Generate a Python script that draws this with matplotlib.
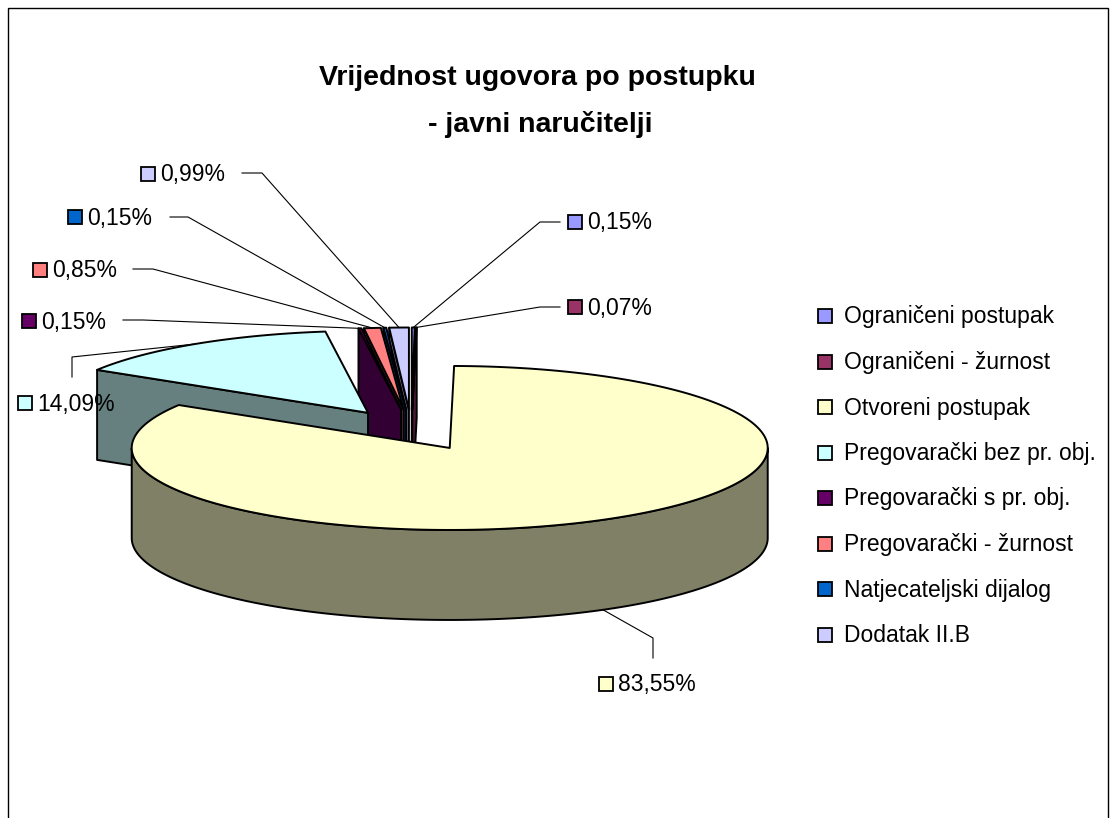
import numpy as np
import matplotlib
matplotlib.use("Agg")
import matplotlib.pyplot as plt
from matplotlib.patches import Polygon, Rectangle

# ---------------- data ----------------
categories = ["Ograničeni postupak", "Ograničeni - žurnost", "Otvoreni postupak",
              "Pregovarački bez pr. obj.", "Pregovarački s pr. obj.",
              "Pregovarački - žurnost", "Natjecateljski dijalog", "Dodatak II.B"]
shares = [0.15, 0.07, 83.55, 14.09, 0.15, 0.85, 0.15, 0.99]
colors = ["#9999FF", "#993366", "#FFFFCC", "#CCFFFF", "#660066",
          "#FF8080", "#0066CC", "#CCCCFF"]
title_lines = ["Vrijednost ugovora po postupku", "- javni naručitelji"]

# ---------------- layout ----------------
CX, CY = 411.4, 430.0      # screen position of pie centre (top plane)
A, B, H = 318.0, 82.0, 90.0  # ellipse semi-axes and wall height (px)
EXPLODE = 0.25
FONT = "Liberation Sans"
FS = 16.5

label_pos = [(575, 222), (575, 307), (606, 684), (25, 403),
             (29, 321), (40, 270), (75, 217), (148, 174)]
leader_pts = [[(560, 222), (540, 222)], [(560, 307), (540, 307)],
              [(653, 658), (653, 638)], [(72, 377), (72, 357)],
              [(123, 320), (143, 320)], [(133, 269), (153, 269)],
              [(170, 217), (188, 217)], [(242, 173), (262, 173)]]
legend_x, legend_y0, legend_dy = 825, 316, 45.5


def shade(c, f=0.5):
    rgb = np.array(matplotlib.colors.to_rgb(c))
    return tuple(rgb * f)


def proj(x, y, z):
    return CX + A * np.asarray(x), CY - B * np.asarray(y) - H * np.asarray(z)


fig = plt.figure(figsize=(11.1, 8.18), dpi=100)
ax = fig.add_axes([0, 0, 1, 1])
ax.set_xlim(0, 1110)
ax.set_ylim(818, 0)
ax.axis("off")

# chart frame
ax.add_patch(Rectangle((8, 8), 1100, 830, fill=False, ec="black", lw=1.0, zorder=0))

total = float(sum(shares))
cum = np.concatenate([[0], np.cumsum(shares)]) / total * 2 * np.pi

side_faces = []   # (depth, polygon xy, color)
top_faces = []
anchors = []
for i, c in enumerate(colors):
    p1, p2 = cum[i], cum[i + 1]
    mid = 0.5 * (p1 + p2)
    ox, oy = EXPLODE * np.sin(mid), EXPLODE * np.cos(mid)
    n = max(3, int(np.degrees(p2 - p1)) + 3)
    ph = np.linspace(p1, p2, n)
    ax_x, ax_y = ox + np.sin(ph), oy + np.cos(ph)
    # top face
    sx, sy = proj(np.r_[ox, ax_x], np.r_[oy, ax_y], 0)
    top_faces.append((np.column_stack([sx, sy]), c))
    dark = shade(c)
    # radial face at start angle
    for phi, vis in ((p1, -np.sin(p1) > 1e-9), (p2, np.sin(p2) > 1e-9)):
        if vis:
            xs = [ox, ox + np.sin(phi), ox + np.sin(phi), ox]
            ys = [oy, oy + np.cos(phi), oy + np.cos(phi), oy]
            zs = [0, 0, -1, -1]
            sx, sy = proj(xs, ys, zs)
            depth = oy + 0.5 * np.cos(phi)
            side_faces.append((depth, np.column_stack([sx, sy]), dark))
    # outer wall (front half)
    lo, hi = max(p1, np.pi / 2), min(p2, 1.5 * np.pi)
    if hi > lo:
        m = int(np.degrees(hi - lo)) + 3
        wp = np.linspace(lo, hi, m)
        wx, wy = ox + np.sin(wp), oy + np.cos(wp)
        tx, ty = proj(wx, wy, 0)
        bx, by = proj(wx[::-1], wy[::-1], -1)
        poly = np.column_stack([np.r_[tx, bx], np.r_[ty, by]])
        side_faces.append((np.mean(wy), poly, dark))
    # leader anchor
    if i == 2:
        anchors.append(proj(ox + np.sin(mid), oy + np.cos(mid), -1))
    else:
        anchors.append(proj(ox + np.sin(mid), oy + np.cos(mid), 0))

z = 1
for depth, poly, col in sorted(side_faces, key=lambda t: -t[0]):
    ax.add_patch(Polygon(poly, closed=True, fc=col, ec="black", lw=1.4,
                         joinstyle="round", zorder=z))
    z += 1
for poly, col in top_faces:
    ax.add_patch(Polygon(poly, closed=True, fc=col, ec="black", lw=1.4,
                         joinstyle="round", zorder=z))
    z += 1

# data labels with leader lines
SQ = 14
for i, (v, c) in enumerate(zip(shares, colors)):
    lx, ly = label_pos[i]
    ax.add_patch(Rectangle((lx - SQ / 2, ly - SQ / 2), SQ, SQ, fc=c, ec="black",
                           lw=1.3, zorder=200))
    txt = f"{v:.2f}".replace(".", ",") + "%"
    ax.text(lx + SQ / 2 + 5, ly + 1, txt, fontsize=FS, family=FONT,
            ha="left", va="center", zorder=200)
    pts = leader_pts[i] + [tuple(float(a) for a in anchors[i])]
    xs, ys = zip(*pts)
    ax.plot(xs, ys, color="black", lw=0.8, zorder=150)

# legend
for k, (name, c) in enumerate(zip(categories, colors)):
    yy = legend_y0 + k * legend_dy
    ax.add_patch(Rectangle((legend_x - SQ / 2, yy - SQ / 2), SQ, SQ, fc=c,
                           ec="black", lw=1.3, zorder=200))
    ax.text(legend_x + SQ / 2 + 12, yy + 1, name, fontsize=FS, family=FONT,
            ha="left", va="center", zorder=200)

# title
ax.text(537, 78, title_lines[0], fontsize=20.5, family=FONT, weight="bold",
        ha="center", va="center")
ax.text(540, 125, title_lines[1], fontsize=20.5, family=FONT, weight="bold",
        ha="center", va="center")

fig.savefig("out.png", dpi=100)
